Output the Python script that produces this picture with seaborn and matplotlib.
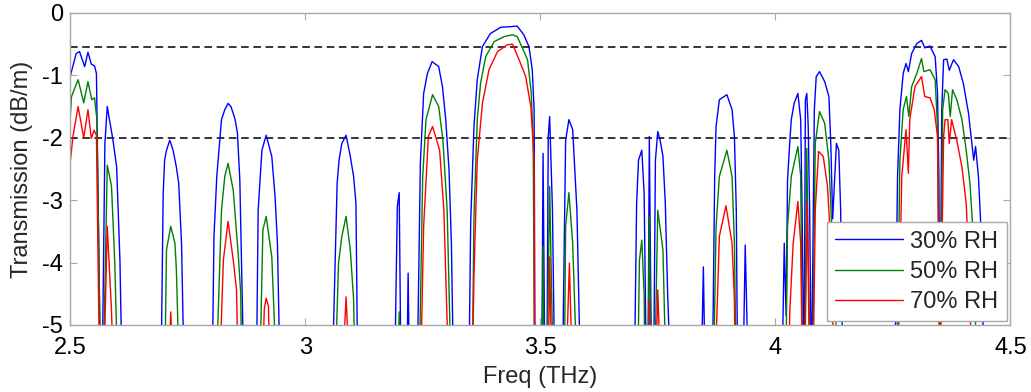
import matplotlib
matplotlib.use("Agg")
import matplotlib.pyplot as plt
import seaborn as sns
import pandas as pd

# Transmission windows (frequency in THz, transmission in dB/m).
# Values below the plotted floor are stored as -6 so the traces leave the axes.
rh30 = [
    (2.500, -1.02), (2.513, -0.65), (2.520, -0.62), (2.531, -0.86), (2.538, -0.63),
    (2.545, -0.82), (2.552, -0.85), (2.556, -0.97), (2.565, -6),
    (2.568, -6), (2.574, -2.09), (2.579, -1.50), (2.591, -2.03), (2.599, -2.47), (2.606, -3.97), (2.611, -6),
    (2.693, -6), (2.698, -2.89), (2.701, -2.36), (2.705, -2.20), (2.712, -2.04), (2.719, -2.20),
    (2.726, -2.47), (2.731, -2.73), (2.737, -3.69), (2.743, -6),
    (2.802, -6), (2.806, -3.58), (2.812, -2.62), (2.822, -1.71), (2.829, -1.55), (2.836, -1.45),
    (2.842, -1.50), (2.847, -1.61), (2.851, -1.71), (2.856, -1.93), (2.861, -2.68), (2.870, -6),
    (2.896, -6), (2.900, -3.16), (2.908, -2.20), (2.917, -1.96), (2.929, -2.30), (2.936, -2.95),
    (2.941, -3.69), (2.947, -6),
    (3.057, -6), (3.068, -2.73), (3.072, -2.36), (3.078, -2.09), (3.087, -1.96), (3.096, -2.30),
    (3.103, -2.62), (3.108, -3.05), (3.112, -6),
    (3.190, -6), (3.196, -3.10), (3.200, -2.88), (3.204, -6), (3.216, -6), (3.219, -4.17), (3.222, -6),
    (3.238, -6), (3.245, -2.41), (3.252, -1.29), (3.260, -0.97), (3.270, -0.78), (3.284, -0.86),
    (3.292, -1.18), (3.299, -1.71), (3.306, -2.52), (3.311, -3.69), (3.316, -6),
    (3.348, -6), (3.352, -3.37), (3.359, -1.82), (3.366, -1.07), (3.377, -0.54), (3.394, -0.33),
    (3.416, -0.23), (3.437, -0.22), (3.451, -0.21), (3.465, -0.35), (3.476, -0.54), (3.483, -0.91),
    (3.487, -1.55), (3.489, -6),
    (3.503, -6), (3.506, -2.25), (3.510, -6), (3.514, -6), (3.517, -1.98), (3.520, -1.66),
    (3.526, -3.16), (3.531, -6),
    (3.547, -6), (3.554, -2.04), (3.561, -1.71), (3.569, -1.87), (3.578, -3.16), (3.586, -6),
    (3.700, -6), (3.705, -3.05), (3.709, -2.36), (3.716, -2.20), (3.721, -2.89), (3.726, -6),
    (3.729, -6), (3.732, -1.98), (3.737, -6), (3.741, -6), (3.745, -2.36), (3.750, -1.90),
    (3.755, -2.04), (3.761, -2.30), (3.766, -3.05), (3.771, -4.50), (3.778, -6),
    (3.842, -6), (3.847, -4.07), (3.851, -6),
    (3.866, -6), (3.871, -2.62), (3.874, -1.82), (3.881, -1.39), (3.897, -1.31), (3.908, -1.55),
    (3.913, -1.98), (3.917, -3.16), (3.920, -6),
    (3.931, -6), (3.936, -3.72), (3.943, -6),
    (4.014, -6), (4.019, -3.69), (4.023, -4.85), (4.026, -2.68), (4.031, -2.04), (4.034, -1.71),
    (4.040, -1.45), (4.048, -1.29), (4.054, -1.71), (4.057, -3.16), (4.061, -6), (4.064, -1.39),
    (4.067, -1.29), (4.070, -1.82), (4.073, -3.16), (4.077, -6), (4.083, -1.55), (4.087, -1.02),
    (4.094, -0.94), (4.105, -1.10), (4.114, -1.34), (4.118, -2.09), (4.122, -3.30), (4.130, -2.09),
    (4.135, -2.20), (4.139, -3.16), (4.144, -6),
    (4.254, -6), (4.260, -2.62), (4.265, -1.55), (4.272, -0.97), (4.278, -0.81), (4.283, -0.94),
    (4.290, -0.65), (4.301, -0.49), (4.311, -0.44), (4.318, -0.56), (4.329, -0.53), (4.340, -0.70),
    (4.345, -1.29), (4.348, -2.62), (4.350, -6), (4.354, -1.55), (4.358, -0.75), (4.365, -0.74),
    (4.370, -0.92), (4.379, -0.75), (4.390, -0.86), (4.400, -1.13), (4.411, -1.61), (4.418, -2.09),
    (4.422, -2.36), (4.426, -2.14), (4.432, -2.62), (4.439, -3.69), (4.444, -6),
    (4.500, -6),
]

rh50 = [
    (2.500, -1.71), (2.503, -1.34), (2.517, -1.07), (2.529, -1.44), (2.538, -1.10), (2.546, -1.39),
    (2.552, -1.36), (2.557, -1.71), (2.565, -6),
    (2.570, -6), (2.579, -2.44), (2.588, -2.77), (2.595, -4.00), (2.602, -6),
    (2.701, -6), (2.705, -3.80), (2.714, -3.42), (2.723, -3.69), (2.726, -4.11), (2.733, -6),
    (2.810, -6), (2.822, -3.16), (2.829, -2.62), (2.836, -2.41), (2.847, -2.84), (2.858, -3.91),
    (2.863, -4.50), (2.865, -6),
    (2.903, -6), (2.910, -3.48), (2.917, -3.26), (2.929, -3.91), (2.940, -6),
    (3.063, -6), (3.071, -4.00), (3.078, -3.58), (3.087, -3.26), (3.096, -3.80), (3.103, -4.59), (3.107, -6),
    (3.197, -6), (3.200, -4.79), (3.204, -6),
    (3.242, -6), (3.250, -2.62), (3.257, -1.71), (3.271, -1.31), (3.284, -1.50), (3.293, -2.04),
    (3.302, -3.16), (3.311, -6),
    (3.355, -6), (3.359, -3.26), (3.366, -1.71), (3.373, -1.13), (3.384, -0.70), (3.402, -0.46),
    (3.423, -0.38), (3.441, -0.35), (3.451, -0.38), (3.462, -0.56), (3.473, -0.75), (3.481, -1.29),
    (3.485, -2.09), (3.488, -6),
    (3.504, -6), (3.506, -3.74), (3.508, -6), (3.514, -6), (3.520, -2.78), (3.528, -6),
    (3.551, -6), (3.554, -3.42), (3.561, -2.88), (3.569, -3.69), (3.579, -6),
    (3.707, -6), (3.711, -3.96), (3.716, -3.64), (3.721, -4.50), (3.723, -6), (3.729, -6),
    (3.732, -3.26), (3.736, -6), (3.743, -6), (3.750, -3.16), (3.761, -3.80), (3.768, -6),
    (3.868, -6), (3.874, -3.42), (3.881, -2.62), (3.897, -2.20), (3.908, -2.62), (3.913, -3.69), (3.917, -6),
    (4.022, -6), (4.026, -3.42), (4.034, -2.62), (4.048, -2.14), (4.054, -2.62), (4.058, -6),
    (4.062, -6), (4.067, -2.17), (4.073, -6), (4.079, -6), (4.085, -2.09), (4.094, -1.58),
    (4.105, -1.77), (4.114, -2.36), (4.119, -3.26), (4.126, -4.20), (4.133, -6),
    (4.258, -6), (4.265, -2.36), (4.272, -1.55), (4.279, -1.34), (4.284, -1.66), (4.290, -1.18),
    (4.301, -0.97), (4.311, -0.73), (4.316, -0.94), (4.329, -0.91), (4.340, -1.07), (4.345, -1.82),
    (4.350, -6), (4.356, -1.55), (4.361, -1.23), (4.368, -1.29), (4.372, -1.66), (4.377, -1.23),
    (4.386, -1.39), (4.397, -1.71), (4.406, -2.20), (4.414, -2.73), (4.422, -3.69), (4.429, -6),
    (4.500, -6),
]

rh70 = [
    (2.500, -2.41), (2.506, -1.98), (2.517, -1.50), (2.529, -2.00), (2.538, -1.55), (2.545, -2.01),
    (2.551, -1.88), (2.556, -1.96), (2.563, -6),
    (2.571, -6), (2.579, -3.42), (2.588, -4.76), (2.593, -6),
    (2.709, -6), (2.714, -4.79), (2.721, -6),
    (2.817, -6), (2.826, -3.96), (2.836, -3.34), (2.847, -3.96), (2.854, -4.44), (2.858, -6),
    (2.908, -6), (2.913, -4.75), (2.917, -4.57), (2.922, -4.70), (2.925, -6),
    (3.078, -6), (3.087, -4.55), (3.096, -6),
    (3.245, -6), (3.252, -3.42), (3.262, -1.98), (3.271, -1.82), (3.286, -2.20), (3.295, -3.16), (3.306, -6),
    (3.355, -6), (3.359, -4.23), (3.366, -2.36), (3.377, -1.45), (3.391, -0.91), (3.409, -0.62),
    (3.430, -0.51), (3.441, -0.50), (3.455, -0.75), (3.469, -1.02), (3.480, -1.50), (3.487, -2.36), (3.488, -6),
    (3.517, -6), (3.520, -3.91), (3.525, -6), (3.554, -6), (3.562, -4.01), (3.569, -6),
    (3.731, -6), (3.732, -4.60), (3.734, -6), (3.745, -6), (3.750, -4.44), (3.757, -6),
    (3.871, -6), (3.881, -3.58), (3.895, -3.09), (3.908, -3.69), (3.913, -4.60), (3.915, -6),
    (4.027, -6), (4.031, -4.75), (4.038, -3.69), (4.048, -3.02), (4.054, -3.69), (4.058, -6),
    (4.062, -6), (4.068, -3.04), (4.075, -6), (4.080, -6), (4.085, -3.16), (4.092, -2.22),
    (4.102, -2.30), (4.111, -2.78), (4.118, -3.69), (4.126, -6),
    (4.260, -6), (4.269, -2.62), (4.278, -1.87), (4.283, -2.57), (4.286, -1.71), (4.297, -1.18),
    (4.311, -1.02), (4.318, -1.34), (4.329, -1.36), (4.338, -1.55), (4.345, -1.98), (4.350, -6),
    (4.358, -1.98), (4.361, -1.71), (4.367, -1.71), (4.370, -2.09), (4.375, -1.71), (4.386, -2.04),
    (4.397, -2.47), (4.406, -3.05), (4.413, -4.20), (4.418, -6),
    (4.500, -6),
]

series_names = ["30% RH", "50% RH", "70% RH"]
series_colors = ["#0000ff", "#008000", "#ff0000"]
reference_levels = [-0.55, -2.0]
x_ticks = [2.5, 3.0, 3.5, 4.0, 4.5]
x_tick_labels = ["2.5", "3", "3.5", "4", "4.5"]
y_ticks = [0, -1, -2, -3, -4, -5]

frames = []
for name, pts in zip(series_names, [rh30, rh50, rh70]):
    d = pd.DataFrame(pts, columns=["freq", "trans"])
    d["series"] = name
    frames.append(d)
df = pd.concat(frames, ignore_index=True)

sns.set_theme(style="white")
plt.rcParams["font.family"] = ["Liberation Sans", "DejaVu Sans"]
plt.rcParams["axes.unicode_minus"] = False

fig = plt.figure(figsize=(10.31, 3.92), dpi=100)
ax = fig.add_axes([0.068, 0.171, 0.912, 0.796])

for lvl in reference_levels:
    ax.axhline(lvl, color="black", lw=1.1, ls=(0, (5, 3)), zorder=1)

sns.lineplot(data=df, x="freq", y="trans", hue="series", hue_order=series_names,
             palette=series_colors, estimator=None, sort=False, lw=1.0, ax=ax, zorder=2)

ax.set_xlim(2.5, 4.5)
ax.set_ylim(-5, 0)
ax.set_xticks(x_ticks)
ax.set_xticklabels(x_tick_labels)
ax.set_yticks(y_ticks)
ax.set_yticklabels([str(v) for v in y_ticks])
ax.set_xlabel("Freq (THz)", fontsize=17, labelpad=5)
ax.set_ylabel("Transmission (dB/m)", fontsize=17, labelpad=7)

edge = "#a8a8a8"
for sp in ax.spines.values():
    sp.set_color(edge)
    sp.set_linewidth(1.0)
ax.tick_params(direction="in", length=5, width=0.8, color=edge, labelsize=17,
               top=True, right=True, bottom=True, left=True, labelcolor="black")
ax.tick_params(axis="x", pad=9)
ax.tick_params(axis="y", pad=5)

leg = ax.legend(loc="lower right", fontsize=17, frameon=True, fancybox=False,
                framealpha=1, edgecolor=edge, handlelength=2.9, handletextpad=0.3,
                borderaxespad=0.15, labelspacing=0.35, borderpad=0.35)
leg.get_frame().set_linewidth(1.0)
leg.set_zorder(5)

fig.savefig("out.png", dpi=100)
